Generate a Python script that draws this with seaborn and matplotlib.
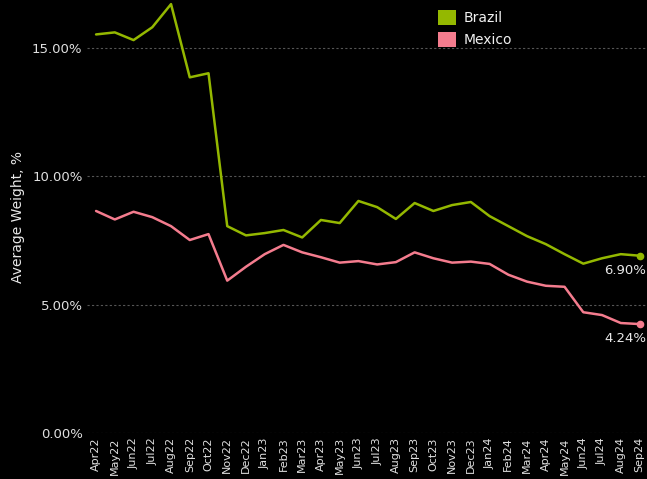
import numpy as np
import pandas as pd
import seaborn as sns
import matplotlib.pyplot as plt
from matplotlib.patches import Patch

months = ['Apr22', 'May22', 'Jun22', 'Jul22', 'Aug22', 'Sep22', 'Oct22', 'Nov22',
          'Dec22', 'Jan23', 'Feb23', 'Mar23', 'Apr23', 'May23', 'Jun23', 'Jul23',
          'Aug23', 'Sep23', 'Oct23', 'Nov23', 'Dec23', 'Jan24', 'Feb24', 'Mar24',
          'Apr24', 'May24', 'Jun24', 'Jul24', 'Aug24', 'Sep24']
brazil = [15.51, 15.59, 15.29, 15.79, 16.69, 13.84, 14.00, 8.05, 7.69, 7.78,
          7.90, 7.61, 8.29, 8.17, 9.03, 8.79, 8.33, 8.95, 8.64, 8.87,
          8.99, 8.44, 8.05, 7.66, 7.35, 6.96, 6.59, 6.80, 6.96, 6.90]
mexico = [8.64, 8.31, 8.61, 8.40, 8.05, 7.51, 7.74, 5.93, 6.47, 6.96,
          7.32, 7.03, 6.84, 6.63, 6.69, 6.56, 6.65, 7.03, 6.80, 6.63,
          6.67, 6.58, 6.16, 5.89, 5.73, 5.69, 4.70, 4.59, 4.28, 4.24]
countries = ['Brazil', 'Mexico']
colors = {'Brazil': '#94b800', 'Mexico': '#f47c8e'}

df = pd.DataFrame({
    'idx': list(range(len(months))) * 2,
    'weight': brazil + mexico,
    'Country': ['Brazil'] * len(months) + ['Mexico'] * len(months),
})

sns.set_style('dark')
plt.rcParams['font.family'] = ['DejaVu Sans']

fig = plt.figure(figsize=(6.47, 4.79), dpi=100, facecolor='black')
ax = fig.add_axes([0.134, 0.096, 0.866, 0.904])
ax.set_facecolor('black')

sns.lineplot(data=df, x='idx', y='weight', hue='Country', palette=colors,
             linewidth=1.8, legend=False, ax=ax)

for c, vals in zip(countries, [brazil, mexico]):
    ax.plot(len(months) - 1, vals[-1], 'o', color=colors[c], markersize=4.5)
    ax.annotate(f'{vals[-1]:.2f}%', (len(months) - 1, vals[-1]),
                xytext=(5, -6), textcoords='offset points',
                ha='right', va='top', color='#e8e8e8', fontsize=9.5)

ax.set_xlim(-0.5, len(months) - 0.6)
ax.set_ylim(0, 16.85)
ax.set_yticks([0, 5, 10, 15])
ax.set_yticklabels([f'{v:.2f}%' for v in [0, 5, 10, 15]], color='#e0e0e0', fontsize=9.5)
ax.set_xticks(range(len(months)))
ax.set_xticklabels(months, rotation=90, color='#e0e0e0', fontsize=8)
ax.tick_params(axis='both', length=0, pad=3)
ax.yaxis.grid(True, linestyle=(0, (2, 2)), color='#555555', linewidth=0.8)
ax.xaxis.grid(False)
for s in ax.spines.values():
    s.set_visible(False)
ax.set_xlabel('')
ax.set_ylabel('Average Weight, %', color='#e8e8e8', fontsize=10, labelpad=5)

handles = [Patch(facecolor=colors[c], edgecolor='none', label=c) for c in countries]
leg = fig.legend(handles=handles, loc='upper left', bbox_to_anchor=(0.658, 1.005),
                 frameon=False, fontsize=10, handlelength=1.3, handleheight=1.3,
                 handletextpad=0.5, labelspacing=0.5)
for t in leg.get_texts():
    t.set_color('#f0f0f0')

fig.savefig('out.png', dpi=100, facecolor='black')
